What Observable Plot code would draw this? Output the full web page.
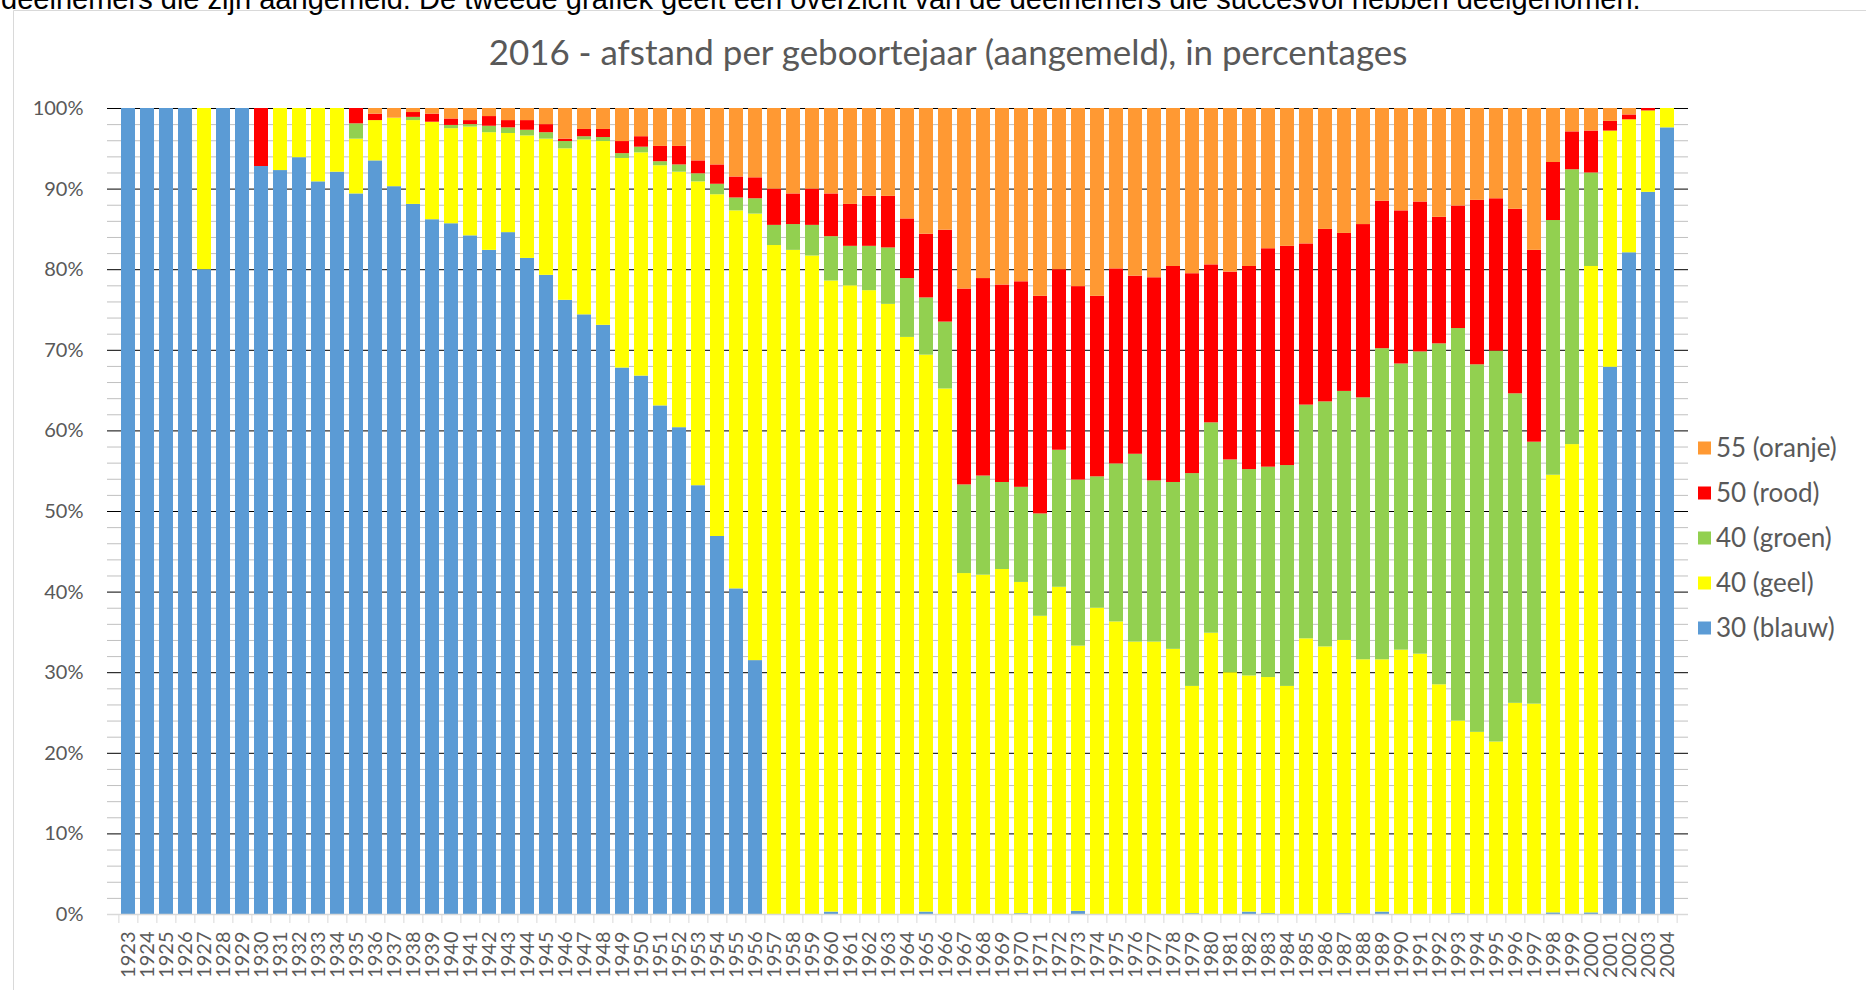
<!DOCTYPE html>
<html><head><meta charset="utf-8">
<script src="https://cdn.jsdelivr.net/npm/d3@7"></script>
<script src="https://cdn.jsdelivr.net/npm/@observablehq/plot@0.6"></script>
<style>
html,body{margin:0;padding:0;background:#fff;overflow:hidden;width:1866px;height:990px;}
#page{position:relative;width:1866px;height:990px;overflow:hidden;}
</style></head>
<body><div id="page"></div>
<script>
const introText = "deelnemers die zijn aangemeld. De tweede grafiek geeft een overzicht van de deelnemers die succesvol hebben deelgenomen.";
const titleText = "2016 - afstand per geboortejaar (aangemeld), in percentages";

const years = d3.range(1923, 2005);

const seriesNames = ["30 (blauw)", "40 (geel)", "40 (groen)", "50 (rood)", "55 (oranje)"];
const seriesColors = ["#5B9BD5", "#FFFF00", "#92D050", "#FF0000", "#FF9933"];

const blauw = [100,100,100,100,80.0,100,100,92.8,92.3,93.9,90.9,92.1,89.4,93.5,90.3,88.1,86.2,85.7,84.2,82.4,
  84.6,81.4,79.3,76.2,74.4,73.1,67.8,66.8,63.1,60.4,53.2,46.9,40.4,31.5,
  0,0,0,0.3,0,0,0,0,0.3,0,0,0,0,0.1,0,0,0.4,0,0,0,0,0,0.1,0,0,0.3,0.1,0,0,0,0.1,0,0.3,0,0,0,0.1,0,0,0,0,0.2,0,0.2,
  67.9,82.1,89.6,97.6];
const geel = [0,0,0,0,20.0,0,0,0,7.7,6.1,9.1,7.9,6.8,5.0,8.5,10.4,12.1,11.8,13.5,14.6,
  12.3,15.2,16.9,18.8,21.7,22.8,26.0,27.7,29.8,31.7,37.7,42.4,46.9,55.4,
  83.0,82.4,81.7,78.3,78.0,77.4,75.7,71.6,69.1,65.2,42.3,42.1,42.8,41.1,37.0,40.6,32.9,38.0,36.3,33.8,33.8,32.9,28.2,
  34.9,30.0,29.3,29.3,28.3,34.2,33.2,33.9,31.6,31.3,32.8,32.3,28.5,23.9,22.6,21.4,26.2,26.1,54.3,58.3,80.2,
  29.3,16.5,10.1,2.4];
const groen = [0,0,0,0,0,0,0,0,0,0,0,0,1.9,0,0,0.4,0,0.4,0.3,0.8,
  0.7,0.7,0.8,0.9,0.4,0.5,0.6,0.7,0.5,0.9,1.0,1.3,1.6,1.9,
  2.5,3.2,3.8,5.5,4.9,5.5,7.0,7.3,7.1,8.3,11.0,12.3,10.8,11.8,12.7,17.0,20.6,16.3,19.6,23.3,20.0,20.7,26.4,
  26.1,26.4,25.6,26.1,27.4,29.0,30.4,30.9,32.5,38.6,35.5,37.5,42.3,48.7,45.6,48.5,38.4,32.5,31.6,34.1,11.6,
  0,0,0,0];
const rood = [0,0,0,0,0,0,0,7.2,0,0,0,0,1.9,0.8,0,0.6,1.0,0.8,0.5,1.2,
  0.9,1.2,1.0,0.3,0.9,1.0,1.5,1.3,1.9,2.3,1.6,2.4,2.6,2.6,
  4.5,3.8,4.5,5.3,5.2,6.2,6.4,7.4,7.9,11.4,24.3,24.5,24.5,25.5,27.0,22.4,24.0,22.4,24.2,22.1,25.2,26.8,24.8,
  19.6,23.3,25.2,27.1,27.2,20.0,21.4,19.6,21.5,18.3,19.0,18.6,15.7,15.2,20.4,18.9,22.9,23.8,7.2,4.7,5.2,
  1.2,0.6,0.3,0];
const oranje = [0,0,0,0,0,0,0,0,0,0,0,0,0,0.7,1.2,0.5,0.7,1.3,1.5,1.0,
  1.5,1.5,2.0,3.8,2.6,2.6,4.1,3.5,4.7,4.7,6.5,7.0,8.5,8.6,
  10.0,10.6,10.0,10.6,11.9,10.9,10.9,13.7,15.6,15.1,22.4,21.1,21.9,21.5,23.3,20.0,22.1,23.3,19.9,20.8,21.0,19.6,20.5,
  19.4,20.3,19.6,17.4,17.1,16.8,15.0,15.5,14.4,11.5,12.7,11.6,13.5,12.1,11.4,11.2,12.5,17.6,6.7,2.9,2.8,
  1.6,0.8,0,0];

const majorTicks = d3.range(0, 101, 10);
const minorTicks = d3.range(0, 101, 2).filter(d => d % 10 !== 0);

const seriesValues = [blauw, geel, groen, rood, oranje];
const table = [];
years.forEach((yr, i) => {
  seriesNames.forEach((s, k) => table.push({year: yr, series: s, value: seriesValues[k][i]}));
});

const W = 1866, H = 990;
const mL = 107, mR = 178, mT = 108, mB = 76;
const pIn = 0.25, pOut = 0.125;
const step = (W - mL - mR) / (years.length - pIn + 2 * pOut);

const chart = Plot.plot({
  width: W, height: H,
  marginLeft: mL, marginRight: mR, marginTop: mT, marginBottom: mB,
  style: {background: "#fff", fontFamily: "Lato"},
  x: {type: "band", domain: years, paddingInner: pIn, paddingOuter: pOut, axis: null, label: null},
  y: {domain: [0, 100], axis: null, label: null},
  color: {domain: seriesNames, range: seriesColors},
  marks: [
    Plot.ruleY(minorTicks, {stroke: "#c0c0c0", strokeWidth: 1}),
    Plot.ruleY(majorTicks, {stroke: "#000000", strokeWidth: 1}),
    Plot.barY(table, Plot.stackY({x: "year", y: "value", z: "series", fill: "series", order: seriesNames})),
    Plot.ruleY([0], {stroke: "#d9d9d9", strokeWidth: 1.5}),
    Plot.axisY({ticks: majorTicks, tickFormat: d => d + "%", tickSize: 0, tickPadding: 24, fontSize: 20, fill: "#595959", label: null}),
    Plot.axisX({ticks: years, tickFormat: d => String(d), tickSize: 0, tickPadding: 17, tickRotate: -90, fontSize: 20, fill: "#595959", label: null}),
    Plot.axisX({ticks: years, tickFormat: () => "", tickSize: 9, dx: -step / 2, stroke: "#d9d9d9", label: null}),
    Plot.axisX({ticks: [years[years.length - 1]], tickFormat: () => "", tickSize: 9, dx: step / 2, stroke: "#d9d9d9", label: null})
  ]
});

document.getElementById("page").appendChild(chart);
const svg = d3.select(chart);

function fit(sel, target) {
  const size = +sel.attr("font-size");
  const len = sel.node().getComputedTextLength();
  if (len > 0) sel.attr("font-size", (size * target / len).toFixed(2));
}

// outer chart frame
svg.append("path").attr("d", "M13.5,990 V10.5 H1866").attr("fill", "none").attr("stroke", "#d9d9d9").attr("stroke-width", 1);

// cut-off intro sentence above the chart
const intro = svg.append("text").attr("x", 1).attr("y", 9).attr("text-anchor", "start")
  .attr("font-family", "'Liberation Sans', Arial, sans-serif").attr("font-size", 27).attr("fill", "#000")
  .text(introText);
fit(intro, 1640);

// title
const title = svg.append("text").attr("x", 948).attr("y", 65).attr("text-anchor", "middle")
  .attr("font-family", "Lato").attr("font-size", 32).attr("fill", "#595959")
  .text(titleText);
fit(title, 919);

// legend (top item = top of stack)
const legendOrder = seriesNames.slice().reverse();
const legendColors = seriesColors.slice().reverse();
const lg = svg.append("g").attr("text-anchor", "start");
legendOrder.forEach((name, i) => {
  const cy = 448 + i * 45;
  lg.append("rect").attr("x", 1698).attr("y", cy - 6.5).attr("width", 13).attr("height", 13).attr("fill", legendColors[i]);
  lg.append("text").attr("x", 1716).attr("y", cy).attr("dy", "0.36em").attr("text-anchor", "start")
    .attr("font-family", "Lato").attr("font-size", 26).attr("fill", "#595959").text(name);
});
</script>
</body></html>
